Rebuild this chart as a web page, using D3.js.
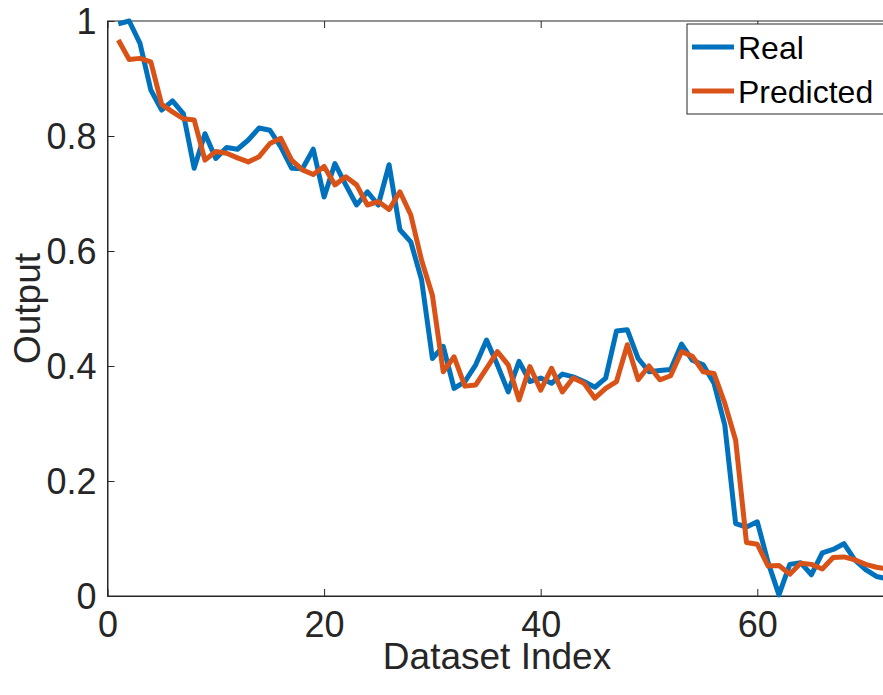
<!DOCTYPE html>
<html>
<head>
<meta charset="utf-8">
<script src="https://cdn.jsdelivr.net/npm/d3@7"></script>
<style>
  body { margin: 0; background: #fff; }
  svg { display: block; font-family: "Liberation Sans", Arial, Helvetica, sans-serif; }
</style>
</head>
<body>
<div id="chart"></div>
<script>
// values, index 1..72
var real = [0.995, 1.0, 0.961, 0.88, 0.845, 0.861, 0.839, 0.744, 0.804, 0.761,
  0.78, 0.777, 0.793, 0.814, 0.81, 0.781, 0.744, 0.743, 0.777, 0.694,
  0.752, 0.715, 0.68, 0.703, 0.68, 0.75, 0.637, 0.616, 0.55, 0.413,
  0.434, 0.361, 0.373, 0.402, 0.445, 0.402, 0.355, 0.408, 0.373, 0.379,
  0.37, 0.386, 0.381, 0.373, 0.363, 0.379, 0.461, 0.463, 0.413, 0.39,
  0.392, 0.394, 0.438, 0.41, 0.402, 0.37, 0.297, 0.126, 0.12, 0.129,
  0.058, 0.002, 0.055, 0.058, 0.037, 0.075, 0.081, 0.091, 0.063, 0.046,
  0.034, 0.03];

var predicted = [0.967, 0.933, 0.935, 0.929, 0.855, 0.842, 0.83, 0.828, 0.758, 0.773,
  0.77, 0.762, 0.755, 0.764, 0.787, 0.796, 0.758, 0.741, 0.733, 0.747,
  0.715, 0.729, 0.715, 0.68, 0.686, 0.672, 0.703, 0.663, 0.584, 0.523,
  0.39, 0.416, 0.365, 0.367, 0.396, 0.425, 0.402, 0.341, 0.399, 0.358,
  0.396, 0.355, 0.379, 0.37, 0.344, 0.361, 0.373, 0.437, 0.376, 0.4,
  0.376, 0.383, 0.425, 0.417, 0.39, 0.387, 0.335, 0.271, 0.093, 0.09,
  0.052, 0.053, 0.038, 0.057, 0.055, 0.047, 0.067, 0.068, 0.063, 0.055,
  0.05, 0.047];

var xTicks = [0, 20, 40, 60];
var yTicks = [0, 0.2, 0.4, 0.6, 0.8, 1];
var seriesNames = ["Real", "Predicted"];
var colors = ["#0072BD", "#D95319"];

var width = 883, height = 695;
var plotLeft = 107.5, plotTop = 21, plotBottom = 596;
var xMax = 80;
var pxPerUnit = 10.83;

var x = d3.scaleLinear().domain([0, xMax]).range([plotLeft, plotLeft + xMax * pxPerUnit]);
var y = d3.scaleLinear().domain([0, 1]).range([plotBottom, plotTop]);

var svg = d3.select("#chart").append("svg")
  .attr("width", width)
  .attr("height", height);

var axisColor = "#262626";

// box
svg.append("rect")
  .attr("x", x(0)).attr("y", y(1))
  .attr("width", x(xMax) - x(0)).attr("height", y(0) - y(1))
  .attr("fill", "none").attr("stroke", axisColor).attr("stroke-width", 1);

// axes
var xAxis = svg.append("g")
  .attr("transform", "translate(0," + y(0) + ")")
  .call(d3.axisBottom(x).tickValues(xTicks).tickSizeInner(-7).tickSizeOuter(0).tickPadding(16));
var yAxis = svg.append("g")
  .attr("transform", "translate(" + x(0) + ",0)")
  .call(d3.axisLeft(y).tickValues(yTicks).tickFormat(d3.format("~g")).tickSizeInner(-7).tickSizeOuter(0).tickPadding(11));

// top ticks
svg.append("g")
  .attr("transform", "translate(0," + y(1) + ")")
  .call(d3.axisTop(x).tickValues(xTicks).tickSizeInner(-7).tickSizeOuter(0).tickFormat(""))
  .call(function(g) { g.select(".domain").remove(); g.selectAll("line").attr("stroke", axisColor); });

[xAxis, yAxis].forEach(function(g) {
  g.select(".domain").attr("stroke", axisColor);
  g.selectAll(".tick line").attr("stroke", axisColor);
  g.selectAll("text").attr("fill", "#262626").style("font-size", "36px").style("font-family", "\"Liberation Sans\", Arial, sans-serif");
});
xAxis.selectAll("text").attr("dy", "0.7em");
yAxis.selectAll("text").attr("dy", "0.36em");

// axis labels
svg.append("text")
  .attr("x", 497)
  .attr("y", 669)
  .attr("text-anchor", "middle")
  .attr("fill", "#262626")
  .style("font-size", "37px")
  .text("Dataset Index");

svg.append("text")
  .attr("transform", "translate(40," + (y(0.5)) + ") rotate(-90)")
  .attr("text-anchor", "middle")
  .attr("fill", "#262626")
  .style("font-size", "37px")
  .text("Output");

// lines
var line = d3.line()
  .x(function(d, i) { return x(i + 1); })
  .y(function(d) { return y(d); });

[real, predicted].forEach(function(s, k) {
  svg.append("path")
    .datum(s)
    .attr("d", line)
    .attr("fill", "none")
    .attr("stroke", colors[k])
    .attr("stroke-width", 5)
    .attr("stroke-linejoin", "round");
});

// legend
var legend = svg.append("g");
legend.append("rect")
  .attr("x", 687).attr("y", 24)
  .attr("width", 260).attr("height", 90)
  .attr("fill", "#fff").attr("stroke", axisColor).attr("stroke-width", 1);

seriesNames.forEach(function(name, k) {
  var ly = 47 + k * 44;
  legend.append("line")
    .attr("x1", 692).attr("x2", 734)
    .attr("y1", ly).attr("y2", ly)
    .attr("stroke", colors[k]).attr("stroke-width", 5);
  legend.append("text")
    .attr("x", 738).attr("y", ly + 12)
    .attr("fill", "#000")
    .style("font-size", "32px")
    .text(name);
});
</script>
</body>
</html>
